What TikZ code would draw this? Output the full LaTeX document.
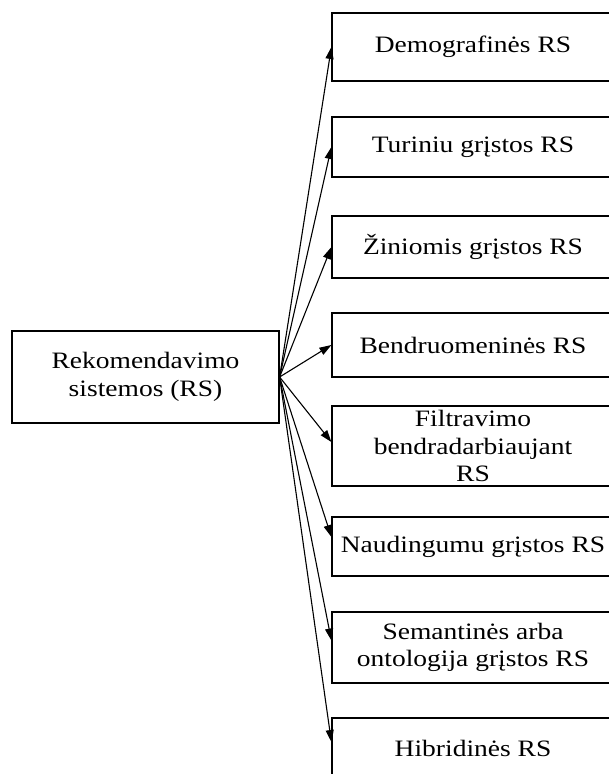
\documentclass[tikz,border=0pt]{standalone}
\usepackage{fontspec}
\setmainfont[FakeStretch=1.17]{Liberation Serif}
\usetikzlibrary{arrows.meta}
\tikzset{
  box/.style={draw=black, line width=1.2pt, rectangle, inner sep=0pt,
    align=center, font=\fontsize{23.5}{27.5}\selectfont, text=black},
  kind/.style={box, minimum width=282pt},
  link/.style={line width=1.1pt, -{Triangle[length=12pt,width=8pt]}}
}
\begin{document}
\begin{tikzpicture}[x=1pt,y=-1pt]
\useasboundingbox (0,0) rectangle (609,774);
\clip (0,0) rectangle (609,774);
\fill[white] (0,0) rectangle (609,774);

% main category
\node[box, minimum width=267pt, minimum height=92pt] (src) at (145.5,377)
  {Rekomendavimo\\sistemos (RS)};

% kinds of recommender systems
\node[kind, minimum height=68pt] (d1) at (473,47) {Demografinės RS};
\node[kind, minimum height=60pt] (d2) at (473,147) {Turiniu grįstos RS};
\node[kind, minimum height=62pt] (d3) at (473,247) {Žiniomis grįstos RS};
\node[kind, minimum height=64pt] (d4) at (473,345) {Bendruomeninės RS};
\node[kind, minimum height=80pt] (d5) at (473,446) {Filtravimo\\bendradarbiaujant\\RS};
\node[kind, minimum height=59pt] (d6) at (473,546.5) {Naudingumu grįstos RS};
\node[kind, minimum height=71pt] (d7) at (473,647.5) {Semantinės arba\\ontologija grįstos RS};
\node[kind, minimum height=60pt] (d8) at (473,748) {Hibridinės RS};

% connectors
\draw[link] (src.east) -- (d1.west);
\draw[link] (src.east) -- (d2.west);
\draw[link] (src.east) -- (d3.west);
\draw[link] (src.east) -- (d4.west);
\draw[link] (src.east) -- ([yshift=4pt]d5.west);
\draw[link] (src.east) -- ([yshift=9.5pt]d6.west);
\draw[link] (src.east) -- ([yshift=7pt]d7.west);
\draw[link] (src.east) -- ([yshift=6pt]d8.west);
\end{tikzpicture}
\end{document}
